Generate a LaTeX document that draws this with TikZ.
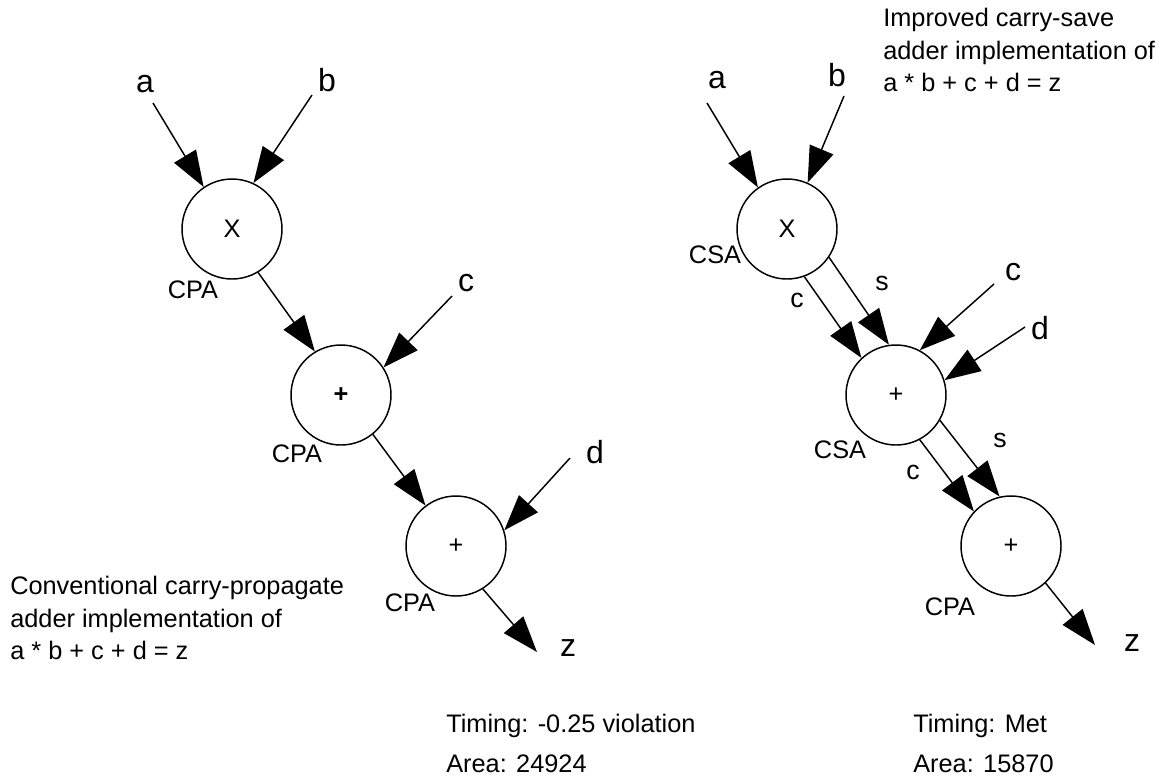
\documentclass[tikz,border=0pt]{standalone}
\usepackage{fontspec}
\setmainfont{Liberation Sans}
\usetikzlibrary{arrows.meta}
\begin{document}
\begin{tikzpicture}[x=0.75pt,y=-0.75pt,
  op/.style={circle,draw,line width=1.1pt,minimum size=75pt,inner sep=0pt,font=\fontsize{19}{22}\selectfont},
  arr/.style={line width=1.1pt,-{Triangle[length=27pt,width=19pt]}},
  lbl/.style={font=\fontsize{24}{28}\selectfont,inner sep=0pt},
  sml/.style={font=\fontsize{20}{24}\selectfont,inner sep=0pt},
  unit/.style={font=\fontsize{19}{22}\selectfont,inner sep=0pt},
  txt/.style={font=\fontsize{19}{24.4}\selectfont,align=left,inner sep=0pt}]
\useasboundingbox (0,0) rectangle (1176,783);

% ---------- left diagram ----------
\node[op] (X1) at (232,229) {X};
\node[op] (P1) at (341,395) {\textbf{+}};
\node[op] (P2) at (456,546) {+};

\node[lbl] (la) at (145,84) {a};
\node[lbl] (lb) at (327,80) {b};
\node[lbl] (lc) at (466,283) {c};
\node[lbl] (ld) at (595,452) {d};
\node[lbl] (lz) at (568,648) {z};

\node[unit] (cpa1) at (193,290) {CPA};
\node[unit] (cpa2) at (297,454) {CPA};
\node[unit] (cpa3) at (410,603) {CPA};

\coordinate (sa1) at (153,103);
\coordinate (sb1) at (312,95);
\coordinate (sc1) at (452,296);
\coordinate (sd1) at (570,458);
\coordinate (ez1) at (537,652);

\draw[arr] (sa1) -- (X1.124);
\draw[arr] (sb1) -- (X1.65);
\draw[arr] (X1.-59) -- (P1.121);
\draw[arr] (sc1) -- (P1.33);
\draw[arr] (P1.-51) -- (P2.127);
\draw[arr] (sd1) -- (P2.18);
\draw[arr] (P2.-58) -- (ez1);

\node[txt,anchor=north west] (ltxt) at (10,576) {Conventional carry-propagate\\adder implementation of\\a * b + c + d = z};

\node[txt,anchor=base west] (lt1) at (446,732) {Timing: -0.25 violation};
\node[txt,anchor=base west] (lt2) at (446,772) {Area: 24924};

% ---------- right diagram ----------
\node[op] (X2) at (787,229) {X};
\node[op] (P3) at (896,395) {+};
\node[op] (P4) at (1011,546) {+};

\node[lbl] (ra) at (717,80) {a};
\node[lbl] (rb) at (837,75) {b};
\node[lbl] (rc) at (1013,272) {c};
\node[lbl] (rd) at (1040,328) {d};
\node[lbl] (rz) at (1132,643) {z};

\node[unit] (csa1) at (715,255) {CSA};
\node[unit] (csa2) at (840,450) {CSA};
\node[unit] (cpa4) at (950,607) {CPA};

\node[sml] (c1) at (797,300) {c};
\node[sml] (s1) at (882,283) {s};
\node[sml] (c2) at (913,472) {c};
\node[sml] (s2) at (1000,440) {s};

\coordinate (sa2) at (707,103);
\coordinate (sb2) at (844,96);
\coordinate (sc2) at (994,284);
\coordinate (sd2) at (1025,327);
\coordinate (ez2) at (1095,645);

\draw[arr] (sa2) -- (X2.125);
\draw[arr] (sb2) -- (X2.66);
\draw[arr] (X2.-70) -- (P3.133);
\draw[arr] (X2.-34) -- (P3.98);
\draw[arr] (sc2) -- (P3.62);
\draw[arr] (sd2) -- (P3.17);
\draw[arr] (P3.-62) -- (P4.137);
\draw[arr] (P3.-30) -- (P4.103);
\draw[arr] (P4.-47) -- (ez2);

\node[txt,anchor=north west] (rtxt) at (883,8) {Improved carry-save\\adder implementation of\\a * b + c + d = z};

\node[txt,anchor=base west] (rt1) at (913,732) {Timing: Met};
\node[txt,anchor=base west] (rt2) at (913,772) {Area: 15870};
\end{tikzpicture}
\end{document}
